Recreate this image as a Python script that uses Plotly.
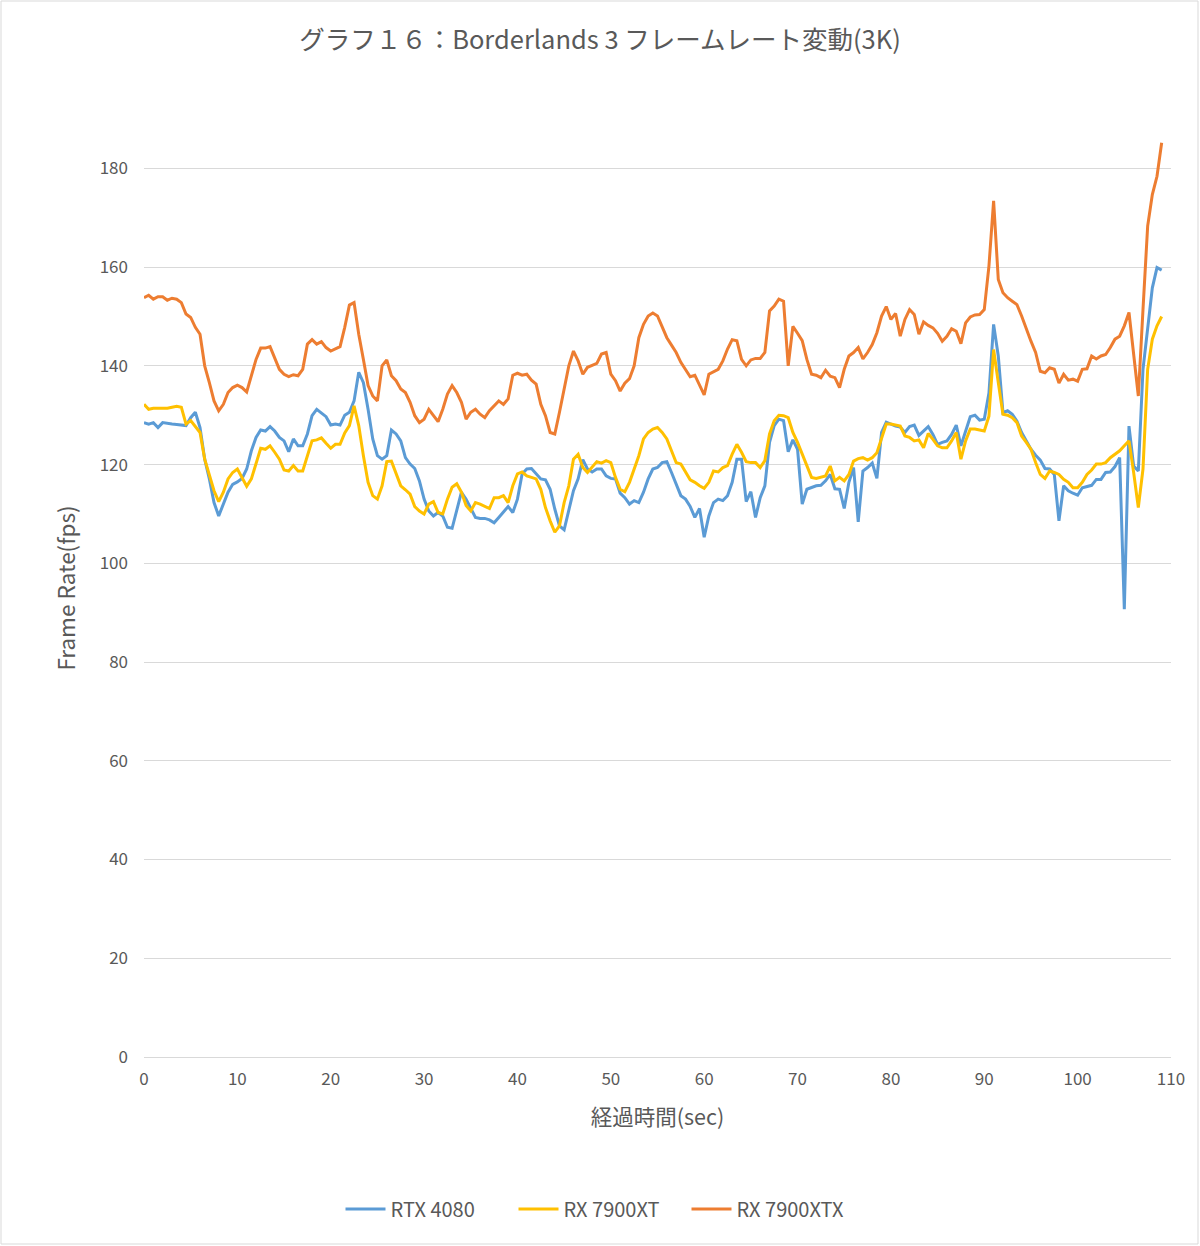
import plotly.graph_objects as go

# Frame rate samples every 0.5 s, from 0 to 109 s
rtx4080 = [
    128.5, 128.2, 128.5, 127.5, 128.5, 128.3, 128.2, 128.1, 128.0, 127.9,
    129.5, 130.6, 127.5, 121.1, 117.1, 112.3, 109.6, 112.0, 114.4, 116.0,
    116.5, 117.2, 119.1, 122.8, 125.5, 127.0, 126.8, 127.7, 126.8, 125.5,
    124.8, 122.6, 125.2, 123.8, 123.8, 126.2, 129.9, 131.2,
    130.4, 129.7, 128.0, 128.2, 128.0, 130.0, 130.6, 132.9, 138.7, 136.6,
    131.2, 125.2, 121.8, 121.1, 121.8, 127.0, 126.2, 124.8, 121.4, 120.1,
    119.2, 116.7, 113.0, 110.6, 109.6, 110.3, 109.6, 107.3, 107.1, 111.0,
    114.4, 113.0, 111.1, 109.3,
    109.1, 109.1, 108.8, 108.2, 109.3, 110.3, 111.5, 110.3, 113.0, 118.1,
    119.1, 119.2, 118.1, 117.1, 116.9, 115.0, 111.0, 107.6, 106.8, 111.0,
    114.7, 117.1, 121.0, 119.1, 118.5, 119.1, 119.1, 117.7, 117.2, 117.1,
    114.2, 113.3, 112.0, 112.7, 112.3, 114.4, 117.1,
    119.1, 119.4, 120.4, 120.6, 118.4, 116.0, 113.7, 113.0, 111.5, 109.3,
    111.1, 105.3, 109.6, 112.3, 113.0, 112.7, 113.7, 116.4, 121.1, 121.1,
    112.5, 114.5, 109.3, 113.3, 115.7, 124.5, 127.9, 129.2, 128.9, 122.6,
    125.0, 123.1, 112.0, 115.0, 115.4, 115.7,
    115.8, 116.7, 118.0, 115.1, 115.0, 111.1, 116.4, 119.4, 108.4, 118.7,
    119.4, 120.3, 117.2, 126.5, 128.6, 128.2, 127.8, 127.6, 126.5, 127.7,
    128.0, 125.9, 126.8, 127.7, 126.1, 124.1, 124.5, 124.8, 126.1, 128.0,
    123.8, 126.8, 129.7, 130.0, 129.0, 129.2, 134.5,
    148.4, 142.0, 130.5, 130.9, 130.2, 128.8, 126.5, 124.8, 123.1, 121.9,
    120.9, 119.2, 119.1, 118.0, 108.6, 115.7, 114.7, 114.2, 113.8, 115.3,
    115.5, 115.8, 117.0, 117.0, 118.4, 118.5, 119.6, 121.4, 90.7, 127.8,
    119.7, 118.7, 139.3, 148.1, 155.8, 159.9, 159.4,
]

rx7900xt = [
    132.2, 131.2, 131.4, 131.4, 131.4, 131.4, 131.6, 131.8, 131.6, 128.2,
    128.9, 127.7, 126.5, 121.1, 117.7, 114.7, 112.5, 114.4, 117.1, 118.4,
    119.1, 117.4, 115.6, 117.1, 120.4, 123.3, 123.1, 123.8, 122.5, 121.1,
    118.9, 118.7, 119.8, 118.7, 118.7, 121.8, 124.8, 125.0,
    125.4, 124.3, 123.3, 124.1, 124.1, 126.4, 127.9, 131.9, 127.9, 121.8,
    116.4, 113.7, 113.0, 115.7, 120.6, 120.7, 118.1, 115.7, 114.9, 114.0,
    111.5, 110.6, 110.0, 112.0, 112.5, 110.3, 110.0, 113.0, 115.4, 116.1,
    114.4, 111.7, 110.6, 112.3,
    112.0, 111.5, 111.1, 113.3, 113.3, 113.7, 112.3, 115.7, 118.1, 118.5,
    117.7, 117.4, 117.1, 115.0, 111.3, 108.6, 106.3, 107.6, 112.3, 115.7,
    121.1, 122.1, 119.4, 118.4, 119.4, 120.6, 120.3, 120.8, 120.4, 117.4,
    115.0, 114.5, 116.4, 119.1, 121.8, 125.2, 126.5,
    127.2, 127.5, 126.5, 125.2, 122.8, 120.4, 120.1, 118.4, 116.9, 116.4,
    115.7, 115.2, 116.4, 118.7, 118.5, 119.4, 119.8, 122.1, 124.1, 122.5,
    120.6, 120.4, 120.4, 119.4, 120.8, 126.2, 128.9, 130.0, 129.9, 129.5,
    126.5, 124.5, 122.1, 119.4, 117.4, 117.2,
    117.5, 117.7, 119.7, 116.7, 117.4, 116.7, 118.0, 120.7, 121.2, 121.4,
    120.9, 121.4, 122.4, 125.1, 128.2, 128.2, 128.0, 127.8, 125.8, 125.5,
    124.8, 125.0, 123.4, 126.3, 125.1, 123.8, 123.4, 123.4, 124.8, 126.5,
    121.1, 124.8, 127.2, 127.2, 127.0, 126.8, 129.8,
    143.3, 136.6, 130.2, 130.0, 129.5, 128.5, 125.8, 124.5, 123.1, 120.4,
    118.0, 117.2, 118.7, 118.4, 118.0, 117.0, 116.4, 115.3, 115.3, 116.4,
    118.0, 118.9, 120.1, 120.1, 120.4, 121.4, 122.1, 122.8, 123.8, 124.8,
    118.4, 111.3, 119.1, 139.3, 145.4, 148.1, 150.0,
]

rx7900xtx = [
    153.8, 154.3, 153.5, 154.0, 154.0, 153.3, 153.7, 153.5, 152.8, 150.5,
    149.8, 147.8, 146.4, 140.0, 136.6, 132.9, 130.9, 132.2, 134.6, 135.6,
    136.1, 135.6, 134.7, 138.0, 141.3, 143.6, 143.6, 143.9, 141.7, 139.3,
    138.3, 137.8, 138.2, 138.0, 139.3, 144.4, 145.3, 144.4,
    144.9, 143.7, 143.0, 143.5, 143.9, 147.8, 152.3, 152.8, 146.4, 141.3,
    136.0, 133.9, 132.9, 140.0, 141.2, 138.0, 137.0, 135.3, 134.6, 132.6,
    129.9, 128.5, 129.2, 131.2, 129.9, 128.7, 131.2, 134.3, 136.0, 134.6,
    132.6, 129.2, 130.6, 131.2,
    130.2, 129.5, 130.9, 132.0, 132.9, 132.2, 133.3, 138.1, 138.5, 138.1,
    138.3, 137.1, 136.3, 132.2, 129.9, 126.5, 126.2, 130.6, 135.3, 140.0,
    143.0, 141.0, 138.3, 139.7, 140.1, 140.5, 142.4, 142.7, 138.3, 137.0,
    134.9, 136.5, 137.4, 140.0, 145.7, 148.4, 150.1,
    150.7, 150.1, 147.8, 145.7, 144.2, 142.7, 140.7, 139.3, 137.8, 138.1,
    136.0, 134.1, 138.3, 138.8, 139.3, 141.0, 143.4, 145.3, 145.1, 141.3,
    140.0, 141.2, 141.5, 141.5, 142.7, 151.1, 152.1, 153.5, 153.1, 140.0,
    148.0, 146.6, 145.1, 141.3, 138.3, 138.1,
    137.6, 139.1, 137.9, 137.6, 135.6, 139.3, 142.0, 142.7, 143.7, 141.4,
    142.7, 144.3, 146.7, 150.1, 152.0, 149.4, 150.6, 146.0, 149.4, 151.4,
    150.4, 146.4, 148.9, 148.2, 147.7, 146.6, 145.0, 146.0, 147.5, 147.0,
    144.5, 148.7, 149.9, 150.3, 150.4, 151.4, 160.2,
    173.4, 157.5, 154.8, 153.8, 153.1, 152.4, 150.1, 147.4, 145.0, 142.7,
    138.9, 138.6, 139.6, 139.3, 136.5, 138.3, 137.1, 137.3, 136.9, 139.3,
    139.4, 142.0, 141.4, 142.0, 142.3, 143.7, 145.4, 146.0, 148.1, 150.8,
    142.0, 133.9, 151.4, 168.3, 174.7, 178.4, 185.2,
]

seconds = [i / 2 for i in range(len(rtx4080))]

series_names = ["RTX 4080", "RX 7900XT", "RX 7900XTX"]
series_values = [rtx4080, rx7900xt, rx7900xtx]
series_colors = ["#5B9BD5", "#FFC000", "#ED7D31"]

FONT = "Noto Sans CJK JP"
GREY = "#595959"

fig = go.Figure()
for name, vals, col in zip(series_names, series_values, series_colors):
    fig.add_trace(go.Scatter(
        x=seconds, y=vals, name=name, mode="lines",
        line=dict(color=col, width=3),
    ))

W, H = 1200, 1246
L, R, T, B = 144, 29, 119, 189
pw, ph = W - L - R, H - T - B

fig.update_layout(
    width=W, height=H,
    margin=dict(l=L, r=R, t=T, b=B),
    paper_bgcolor="white", plot_bgcolor="white",
    font=dict(family=FONT, color=GREY, size=16),
    title=dict(
        text="グラフ１６：Borderlands 3 フレームレート変動(3K)",
        x=0.5, xanchor="center", xref="container",
        y=1 - 40 / H, yanchor="middle", yref="container",
        font=dict(size=25.5, color=GREY, family=FONT),
    ),
    xaxis=dict(
        range=[0, 110], tick0=0, dtick=10, showgrid=False, zeroline=False,
        showline=False, ticks="", ticklabelstandoff=10,
        tickfont=dict(size=17, color=GREY),
        title=dict(text="経過時間(sec)", font=dict(size=21.5, color=GREY), standoff=20),
    ),
    yaxis=dict(
        range=[0, 190], tick0=0, dtick=20, showgrid=True, gridcolor="#D9D9D9",
        gridwidth=1, zeroline=True, zerolinecolor="#D9D9D9", zerolinewidth=1,
        showline=False, ticks="", ticklabelstandoff=15,
        tickfont=dict(size=17, color=GREY),
        title=dict(text="Frame Rate(fps)", font=dict(size=22.5, color=GREY), standoff=17),
    ),
    legend=dict(
        orientation="h", x=0.5, xanchor="center", xref="container",
        y=1 - 1209 / H, yanchor="middle", yref="container",
        font=dict(size=20, color=GREY), traceorder="normal",
        itemwidth=40, entrywidth=118, entrywidthmode="pixels",
    ),
    showlegend=True,
)

# chart-area border
fig.add_shape(
    type="rect", xref="paper", yref="paper",
    x0=(1 - L) / pw, x1=(W - 2 - L) / pw,
    y0=(H - B - (H - 2)) / ph, y1=(H - B - 1) / ph,
    line=dict(color="#D9D9D9", width=1), fillcolor="rgba(0,0,0,0)", layer="below",
)

fig.write_html(
    "out.html",
    config={"displayModeBar": False},
    post_script="document.body.style.margin='0';",
)
